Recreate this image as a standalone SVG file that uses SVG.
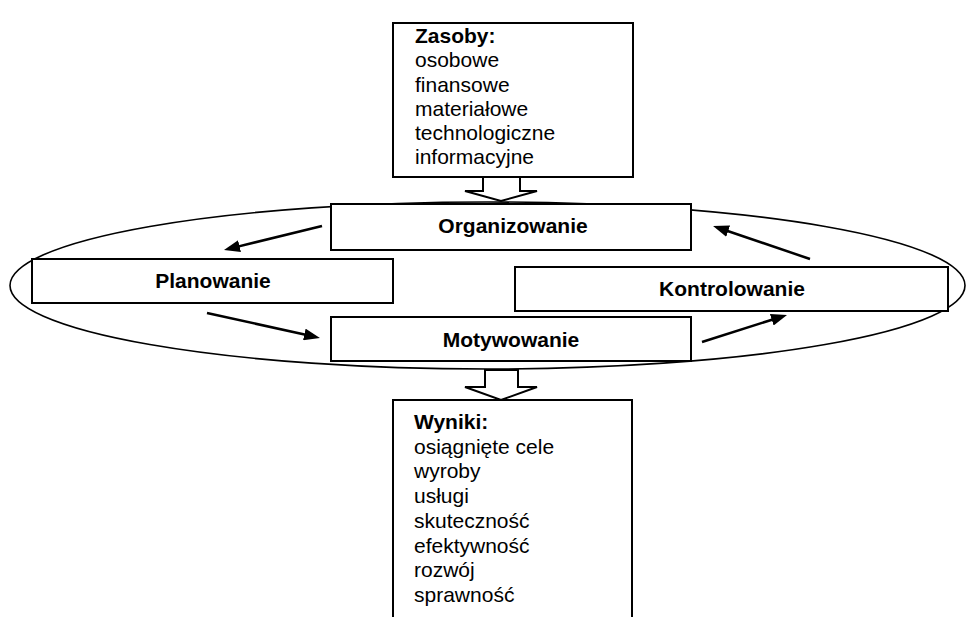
<svg xmlns="http://www.w3.org/2000/svg" width="966" height="617" viewBox="0 0 966 617">
<style>
.box{fill:#fff;stroke:#000;stroke-width:2}
.t{font-family:"Liberation Sans",Arial,sans-serif;font-size:21px;fill:#000}
.b{font-weight:bold}
.c{text-anchor:middle}
.arr{stroke:#000;stroke-width:2.5;fill:none;marker-end:url(#ah)}
.hollow{fill:#fff;stroke:#000;stroke-width:2;stroke-linejoin:miter}
</style>
<defs>
<marker id="ah" markerUnits="userSpaceOnUse" markerWidth="16" markerHeight="12" refX="6" refY="6" orient="auto">
<path d="M0,0 L16,6 L0,12 z" fill="#000"/>
</marker>
</defs>
<rect width="966" height="617" fill="#fff"/>
<g id="cycle">
<ellipse cx="487.5" cy="285.5" rx="477.5" ry="83.5" fill="none" stroke="#000" stroke-width="1.6"/>
</g>
<g id="connectors">
<polygon class="hollow" points="483,177 483,191 465,191 501,201 537,191 520,191 520,177"/>
<polygon class="hollow" points="485,370 485,387 465,387 501,400 537,387 518,387 518,370"/>
<line class="arr" x1="322" y1="226" x2="233.7" y2="247.6"/>
<line class="arr" x1="207" y1="313" x2="310.2" y2="335.8"/>
<line class="arr" x1="702" y1="342" x2="777.5" y2="318"/>
<line class="arr" x1="810" y1="259" x2="722.5" y2="229.2"/>
</g>
<g id="zasoby">
<rect class="box" x="393" y="23" width="240" height="154"/>
<text class="t b" x="415" y="43">Zasoby:</text>
<text class="t" x="415" y="67">osobowe</text>
<text class="t" x="415" y="91.5">finansowe</text>
<text class="t" x="415" y="116">materiałowe</text>
<text class="t" x="415" y="140">technologiczne</text>
<text class="t" x="415" y="164">informacyjne</text>
</g>
<g id="organizowanie">
<rect class="box" x="331" y="204" width="360" height="46"/>
<text class="t b c" x="513" y="233">Organizowanie</text>
</g>
<g id="planowanie">
<rect class="box" x="32" y="259" width="361" height="44"/>
<text class="t b c" x="213" y="288">Planowanie</text>
</g>
<g id="kontrolowanie">
<rect class="box" x="515" y="267" width="433" height="44"/>
<text class="t b c" x="732" y="296">Kontrolowanie</text>
</g>
<g id="motywowanie">
<rect class="box" x="331" y="317" width="360" height="44"/>
<text class="t b c" x="511" y="347">Motywowanie</text>
</g>
<g id="wyniki">
<path d="M393,620 V400 H632 V620" fill="#fff" stroke="#000" stroke-width="2"/>
<text class="t b" x="414" y="429">Wyniki:</text>
<text class="t" x="414" y="453.7">osiągnięte cele</text>
<text class="t" x="414" y="478.4">wyroby</text>
<text class="t" x="414" y="503.1">usługi</text>
<text class="t" x="414" y="527.8">skuteczność</text>
<text class="t" x="414" y="552.5">efektywność</text>
<text class="t" x="414" y="577.2">rozwój</text>
<text class="t" x="414" y="601.9">sprawność</text>
</g>
</svg>
